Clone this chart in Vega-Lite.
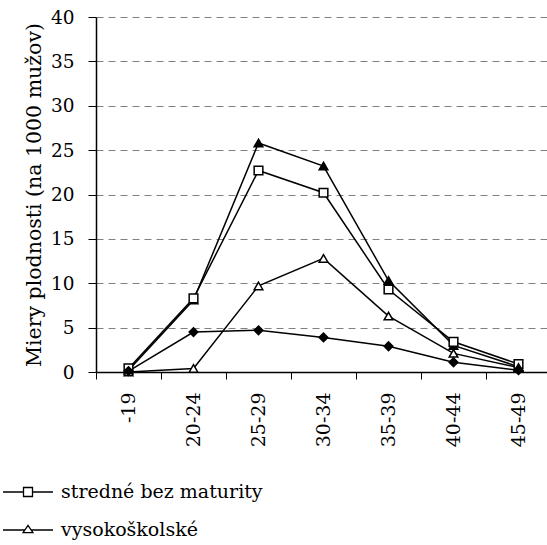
{
  "$schema": "https://vega.github.io/schema/vega-lite/v6.json",
  "autosize": "none",
  "width": 455,
  "height": 355,
  "padding": {"left": 96, "top": 17, "right": 0, "bottom": 173},
  "background": "white",
  "config": {
    "view": {"stroke": null},
    "font": "DejaVu Serif"
  },
  "data": {
    "values": [
      {"age": "-19", "series": "úplné stredné", "value": 0.2},
      {"age": "20-24", "series": "úplné stredné", "value": 8.1},
      {"age": "25-29", "series": "úplné stredné", "value": 25.8},
      {"age": "30-34", "series": "úplné stredné", "value": 23.2},
      {"age": "35-39", "series": "úplné stredné", "value": 10.3},
      {"age": "40-44", "series": "úplné stredné", "value": 3.0},
      {"age": "45-49", "series": "úplné stredné", "value": 0.6},
      {"age": "-19", "series": "stredné bez maturity", "value": 0.4},
      {"age": "20-24", "series": "stredné bez maturity", "value": 8.3},
      {"age": "25-29", "series": "stredné bez maturity", "value": 22.7},
      {"age": "30-34", "series": "stredné bez maturity", "value": 20.2},
      {"age": "35-39", "series": "stredné bez maturity", "value": 9.3},
      {"age": "40-44", "series": "stredné bez maturity", "value": 3.4},
      {"age": "45-49", "series": "stredné bez maturity", "value": 0.9},
      {"age": "-19", "series": "vysokoškolské", "value": 0.0},
      {"age": "20-24", "series": "vysokoškolské", "value": 0.4},
      {"age": "25-29", "series": "vysokoškolské", "value": 9.7},
      {"age": "30-34", "series": "vysokoškolské", "value": 12.8},
      {"age": "35-39", "series": "vysokoškolské", "value": 6.3},
      {"age": "40-44", "series": "vysokoškolské", "value": 2.1},
      {"age": "45-49", "series": "vysokoškolské", "value": 0.5},
      {"age": "-19", "series": "základné", "value": 0.1},
      {"age": "20-24", "series": "základné", "value": 4.5},
      {"age": "25-29", "series": "základné", "value": 4.7},
      {"age": "30-34", "series": "základné", "value": 3.9},
      {"age": "35-39", "series": "základné", "value": 2.9},
      {"age": "40-44", "series": "základné", "value": 1.1},
      {"age": "45-49", "series": "základné", "value": 0.2}
    ]
  },
  "encoding": {
    "x": {
      "field": "age",
      "type": "nominal",
      "sort": ["-19", "20-24", "25-29", "30-34", "35-39", "40-44", "45-49"],
      "scale": {"paddingInner": 0, "paddingOuter": 0},
      "axis": {
        "title": null,
        "labelAngle": 270,
        "labelAlign": "right",
        "labelBaseline": "middle",
        "labelFontSize": 19,
        "labelColor": "black",
        "labelPadding": 13,
        "tickSize": 7,
        "tickColor": "black",
        "tickBand": "extent",
        "domainColor": "black",
        "domainWidth": 1.5,
        "grid": false
      }
    },
    "y": {
      "field": "value",
      "type": "quantitative",
      "scale": {"domain": [0, 40], "nice": false},
      "axis": {
        "title": "Miery plodnosti (na 1000 mužov)",
        "titleFontSize": 20.5,
        "titleFontWeight": "normal",
        "titleColor": "black",
        "titlePadding": 6,
        "values": [0, 5, 10, 15, 20, 25, 30, 35, 40],
        "labelFontSize": 18.5,
        "labelColor": "black",
        "labelPadding": 14,
        "tickSize": 8,
        "tickColor": "black",
        "domainColor": "black",
        "domainWidth": 1.5,
        "grid": true,
        "gridColor": "#808080",
        "gridDash": [7, 5],
        "gridWidth": 1
      }
    }
  },
  "layer": [
    {
      "mark": {"type": "line", "color": "black", "strokeWidth": 1.5},
      "encoding": {"detail": {"field": "series", "type": "nominal"}}
    },
    {
      "mark": {"type": "point", "filled": false, "size": 75, "strokeWidth": 1.5, "opacity": 1},
      "encoding": {
        "shape": {
          "field": "series",
          "type": "nominal",
          "scale": {
            "domain": ["úplné stredné", "stredné bez maturity", "vysokoškolské", "základné"],
            "range": ["triangle-up", "square", "triangle-up", "diamond"]
          },
          "legend": null
        },
        "fill": {
          "field": "series",
          "type": "nominal",
          "scale": {
            "domain": ["úplné stredné", "stredné bez maturity", "vysokoškolské", "základné"],
            "range": ["black", "white", "white", "black"]
          },
          "legend": null
        },
        "stroke": {"value": "black"}
      }
    },
    {
      "transform": [{"filter": {"field": "series", "oneOf": ["stredné bez maturity", "vysokoškolské"]}}],
      "mark": {"type": "point", "filled": false, "opacity": 0, "stroke": "black"},
      "encoding": {
        "shape": {
          "field": "series",
          "type": "nominal",
          "scale": {
            "domain": ["stredné bez maturity", "vysokoškolské"],
            "range": [
              "M-1.667,0H-0.3M0.3,0H1.667M-0.3,-0.3H0.3V0.3H-0.3Z",
              "M-1.667,0H-0.21M0.21,0H1.667M-0.33,0.17L0,-0.3L0.33,0.17Z"
            ]
          },
          "legend": {
            "title": null,
            "orient": "none",
            "legendX": -84,
            "legendY": 459,
            "direction": "vertical",
            "padding": 0,
            "symbolSize": 900,
            "symbolOpacity": 1,
            "symbolFillColor": "white",
            "symbolStrokeColor": "black",
            "symbolStrokeWidth": 1.3,
            "labelFontSize": 19,
            "labelColor": "black",
            "labelOffset": 17,
            "rowPadding": 12,
            "labelLimit": 400
          }
        }
      }
    }
  ],
  "resolve": {"scale": {"shape": "independent", "fill": "independent"}, "legend": {"shape": "independent"}}
}
